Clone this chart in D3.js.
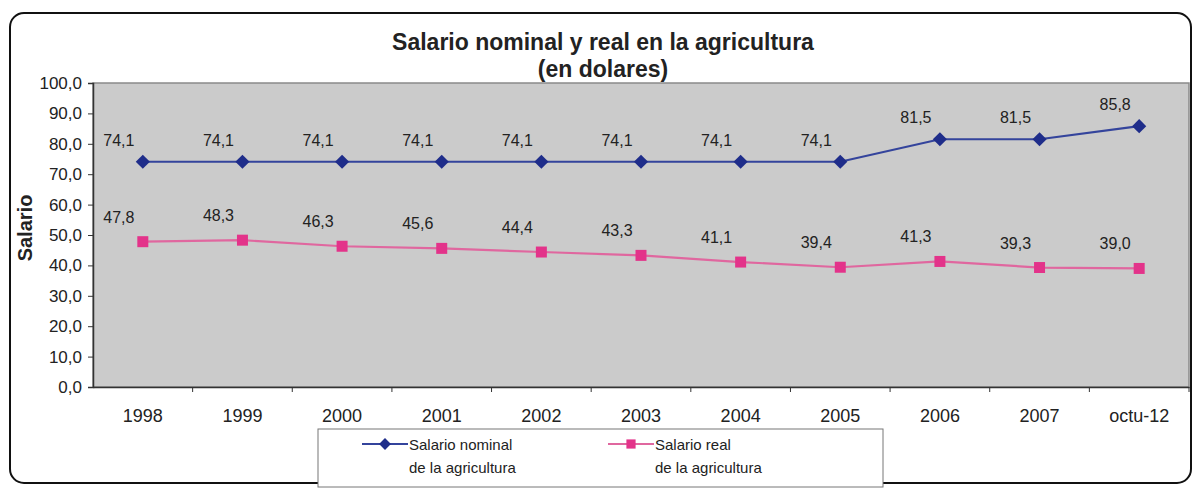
<!DOCTYPE html>
<html>
<head>
<meta charset="utf-8">
<script src="https://cdn.jsdelivr.net/npm/d3@7"></script>
<style>
  body { margin: 0; background: #fff; }
  svg text { font-family: Arial, "Liberation Sans", sans-serif; fill: #222; }
</style>
</head>
<body>
<div class="viz"></div>
<script>
var categories = ["1998", "1999", "2000", "2001", "2002", "2003", "2004", "2005", "2006", "2007", "octu-12"];
var nominal = [74.1, 74.1, 74.1, 74.1, 74.1, 74.1, 74.1, 74.1, 81.5, 81.5, 85.8];
var real = [47.8, 48.3, 46.3, 45.6, 44.4, 43.3, 41.1, 39.4, 41.3, 39.3, 39.0];
var yTicks = [0, 10, 20, 30, 40, 50, 60, 70, 80, 90, 100];

var width = 1195,
    height = 488,
    margin = {top: 83, right: 6, bottom: 101, left: 93};

var svg = d3.select(".viz").append("svg")
    .attr("width", width)
    .attr("height", height);

// rounded outer frame
svg.append("rect")
    .attr("x", 10).attr("y", 13)
    .attr("width", 1181).attr("height", 470)
    .attr("rx", 14)
    .attr("fill", "#fff")
    .attr("stroke", "#111")
    .attr("stroke-width", 2);

var x = d3.scaleBand()
    .domain(categories)
    .range([margin.left, width - margin.right]);

var y = d3.scaleLinear()
    .domain([0, 100])
    .range([height - margin.bottom, margin.top]);

var fmt = function(v) { return d3.format(".1f")(v).replace(".", ","); };

// plot area
svg.append("rect")
    .attr("x", margin.left).attr("y", margin.top)
    .attr("width", width - margin.right - margin.left)
    .attr("height", y(0) - margin.top)
    .attr("fill", "#cbcbcb")
    .attr("stroke", "#8a8a8a")
    .attr("stroke-width", 1.5);

// axes
var yAxis = svg.append("g")
    .attr("transform", "translate(" + margin.left + ",0)")
    .call(d3.axisLeft(y).tickValues(yTicks).tickSize(5).tickPadding(6).tickFormat(fmt));

var xAxis = svg.append("g")
    .attr("transform", "translate(0," + y(0) + ")")
    .call(d3.axisBottom(x).tickSize(0).tickPadding(22));

[yAxis, xAxis].forEach(function(g) {
    g.select(".domain").attr("stroke", "#333").attr("stroke-width", 1.5);
    g.selectAll(".tick line").attr("stroke", "#333");
    g.selectAll("text").attr("font-size", 17).attr("fill", "#222");
});
xAxis.selectAll("text").attr("font-size", 18);

// category separators on x axis
svg.append("g").selectAll("line")
    .data(categories)
    .join("line")
    .attr("x1", function(d) { return x(d) + x.bandwidth(); })
    .attr("x2", function(d) { return x(d) + x.bandwidth(); })
    .attr("y1", y(0)).attr("y2", y(0) + 5)
    .attr("stroke", "#333");

// titles
svg.append("text")
    .attr("x", 603).attr("y", 50)
    .attr("text-anchor", "middle")
    .attr("font-size", 23).attr("font-weight", "bold")
    .text("Salario nominal y real en la agricultura");
svg.append("text")
    .attr("x", 603).attr("y", 77)
    .attr("text-anchor", "middle")
    .attr("font-size", 23).attr("font-weight", "bold")
    .text("(en dolares)");

svg.append("text")
    .attr("transform", "translate(32,228) rotate(-90)")
    .attr("text-anchor", "middle")
    .attr("font-size", 20).attr("font-weight", "bold")
    .text("Salario");

var cx = function(i) { return x(categories[i]) + x.bandwidth() / 2; };

var line = d3.line()
    .x(function(d, i) { return cx(i); })
    .y(function(d) { return y(d); });

var series = [
    {name: "nominal", values: nominal, line: "#34449c", marker: "#1f2d8a", size: 100, rotate: 45, dx: -24, dy: -16},
    {name: "real", values: real, line: "#e0679f", marker: "#e3338a", size: 121, rotate: 0, dx: -24, dy: -19}
];

series.forEach(function(s) {
    svg.append("path")
        .datum(s.values)
        .attr("fill", "none")
        .attr("stroke", s.line)
        .attr("stroke-width", 2.2)
        .attr("d", line);

    svg.append("g").selectAll("path")
        .data(s.values)
        .join("path")
        .attr("transform", function(d, i) { return "translate(" + cx(i) + "," + y(d) + ") rotate(" + s.rotate + ")"; })
        .attr("d", d3.symbol().type(d3.symbolSquare).size(s.size))
        .attr("fill", s.marker);

    svg.append("g").selectAll("text")
        .data(s.values)
        .join("text")
        .attr("x", function(d, i) { return cx(i) + s.dx; })
        .attr("y", function(d) { return y(d) + s.dy; })
        .attr("text-anchor", "middle")
        .attr("font-size", 16)
        .text(fmt);
});

// legend
var legend = svg.append("g");
legend.append("rect")
    .attr("x", 318).attr("y", 429)
    .attr("width", 565).attr("height", 58)
    .attr("fill", "#fff")
    .attr("stroke", "#777");

var legendItems = [
    {s: series[0], x: 362, label: ["Salario nominal", "de la agricultura"]},
    {s: series[1], x: 608, label: ["Salario real", "de la agricultura"]}
];

legendItems.forEach(function(item) {
    legend.append("line")
        .attr("x1", item.x).attr("x2", item.x + 46)
        .attr("y1", 444).attr("y2", 444)
        .attr("stroke", item.s.line).attr("stroke-width", 2);
    legend.append("path")
        .attr("transform", "translate(" + (item.x + 23) + ",444) rotate(" + item.s.rotate + ")")
        .attr("d", d3.symbol().type(d3.symbolSquare).size(item.s.size * 0.7))
        .attr("fill", item.s.marker);
    item.label.forEach(function(t, j) {
        legend.append("text")
            .attr("x", item.x + 47).attr("y", 450 + j * 23)
            .attr("font-size", 15)
            .text(t);
    });
});
</script>
</body>
</html>
